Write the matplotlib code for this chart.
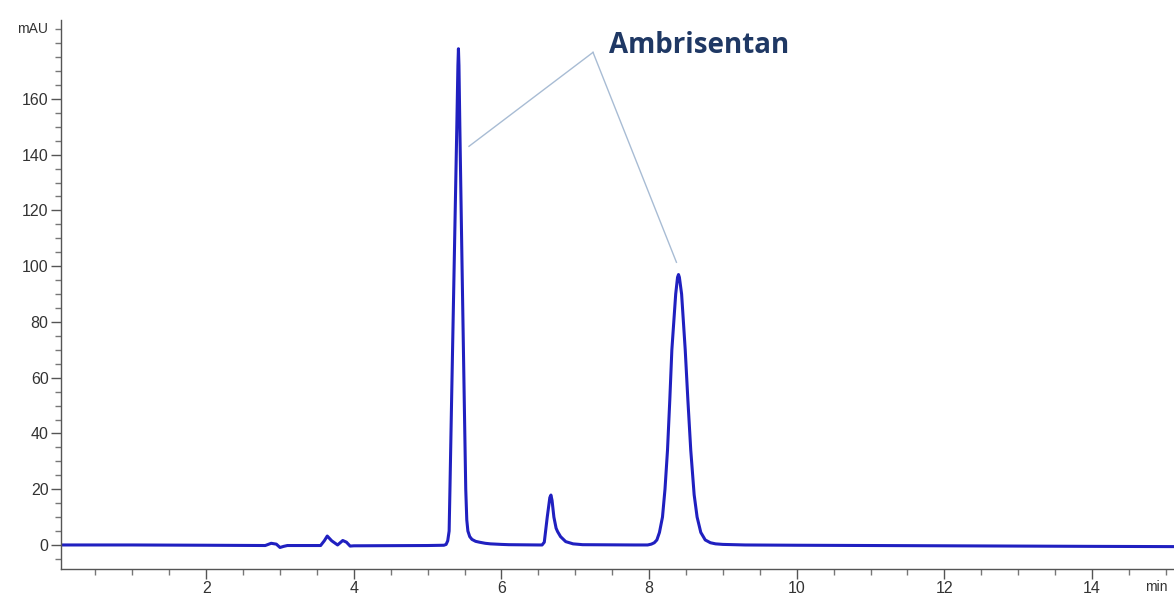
import numpy as np
import matplotlib.pyplot as plt
from matplotlib.ticker import MultipleLocator

# traced chromatogram (retention time in min, signal in mAU)
time_min = [0.0, 1.0, 2.0, 2.8, 2.88, 2.95, 3.0, 3.05, 3.1, 3.55, 3.6, 3.64, 3.7, 3.78,
            3.85, 3.9, 3.95, 4.0, 5.0, 5.22,
            # main peak
            5.25, 5.272, 5.291, 5.302, 5.323, 5.359, 5.395, 5.41, 5.417, 5.424, 5.436,
            5.466, 5.497, 5.516, 5.53, 5.545, 5.57, 5.6, 5.65, 5.7, 5.78, 5.85, 6.0, 6.1, 6.5,
            # small peak
            6.55, 6.58, 6.62, 6.655, 6.67, 6.685, 6.71, 6.74, 6.76, 6.8, 6.87, 6.97, 7.1, 7.8,
            # second main peak
            7.98, 8.03, 8.07, 8.105, 8.14, 8.181, 8.215, 8.249, 8.28, 8.308, 8.36, 8.385,
            8.398, 8.41, 8.44, 8.489, 8.525, 8.564, 8.61, 8.65, 8.7, 8.76, 8.83, 8.9, 9.0,
            9.3, 10.0, 12.0, 14.0, 15.2]
signal_mau = [0.0, 0.0, -0.1, -0.2, 0.6, 0.3, -0.9, -0.5, -0.2, -0.2, 1.5, 3.2, 1.5, 0.0,
              1.6, 1.0, -0.4, -0.3, -0.2, -0.1,
              0.2, 1.5, 5, 20, 50, 100, 150, 172, 178, 172, 150,
              100, 50, 20, 9, 5, 3, 2, 1.3, 1.0, 0.6, 0.4, 0.2, 0.1, 0.0,
              0.0, 1.0, 10, 17, 17.9, 16, 10, 6, 4.8, 3, 1.2, 0.4, 0.1, 0.0,
              0.0, 0.3, 0.8, 1.8, 4.5, 10, 20, 34, 52, 70, 90, 96,
              97, 96, 90, 70, 52, 34, 18, 10, 4.5, 1.8, 0.8, 0.4, 0.2,
              0.0, -0.1, -0.3, -0.5, -0.6]

label_text = "Ambrisentan"
label_xy = (7.45, 176.5)
pointer_vertex = (7.24, 176.7)
pointer_targets = [(5.56, 143.0), (8.37, 101.4)]

fig = plt.figure(figsize=(11.74, 5.97), dpi=100)
ax = fig.add_axes([0.052, 0.047, 0.948, 0.919])

ax.plot(time_min, signal_mau, color='#2020c0', linewidth=2.2, solid_joinstyle='round')

# annotation lines + label
for tx, ty in pointer_targets:
    ax.plot([pointer_vertex[0], tx], [pointer_vertex[1], ty], color='#a8bcd4', linewidth=1.0)
ax.text(label_xy[0], label_xy[1], label_text, fontsize=20, fontweight='bold',
        color='#1f3864', family='Open Sans', va='baseline', ha='left')

ax.set_xlim(0.034, 15.11)
ax.set_ylim(-8.6, 188.2)

ax.xaxis.set_major_locator(MultipleLocator(2))
ax.xaxis.set_minor_locator(MultipleLocator(0.5))
ax.yaxis.set_major_locator(MultipleLocator(20))
ax.yaxis.set_minor_locator(MultipleLocator(5))
ax.set_xticks([2, 4, 6, 8, 10, 12, 14])
ax.set_yticks([0, 20, 40, 60, 80, 100, 120, 140, 160])

for side in ['top', 'right']:
    ax.spines[side].set_visible(False)
for side in ['left', 'bottom']:
    ax.spines[side].set_color('#555555')
    ax.spines[side].set_linewidth(1.0)

ax.tick_params(which='major', length=7, width=1, color='#555555', pad=2,
               labelsize=11.5, labelcolor='#333333')
ax.tick_params(which='minor', length=4, width=1, color='#777777')
for lab in ax.get_xticklabels() + ax.get_yticklabels():
    lab.set_family('Liberation Sans')

ax.text(-0.012, 185, 'mAU', transform=ax.get_yaxis_transform(), ha='right', va='center',
        fontsize=10, color='#333333', family='Liberation Sans')
ax.text(14.72, -0.033, 'min', transform=ax.get_xaxis_transform(), ha='left', va='center',
        fontsize=10, color='#333333', family='Liberation Sans')

fig.savefig('out.png', dpi=100)
